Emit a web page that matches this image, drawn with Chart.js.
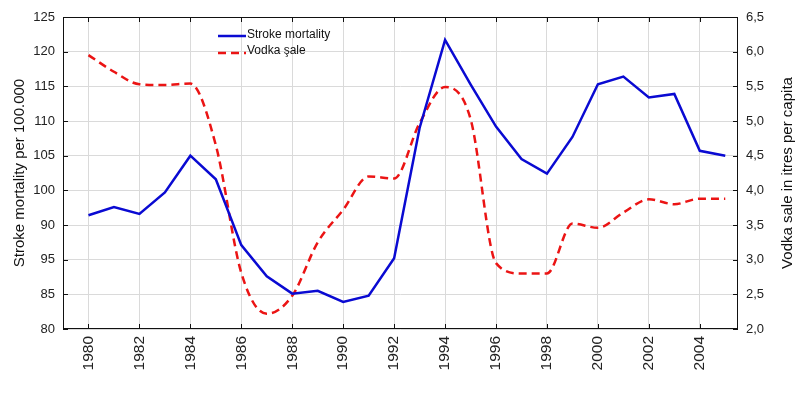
<!DOCTYPE html>
<html>
<head>
<meta charset="utf-8">
<script src="https://cdn.jsdelivr.net/npm/chart.js@4.4.0/dist/chart.umd.min.js"></script>
<style>
  html, body { margin: 0; padding: 0; background: #fff; }
  #wrap { width: 800px; height: 394px; }
</style>
</head>
<body>
<div id="wrap"><canvas id="strokeVodkaChart"></canvas></div>
<script>
var years = [1980, 1981, 1982, 1983, 1984, 1985, 1986, 1987, 1988, 1989, 1990, 1991, 1992,
             1993, 1994, 1995, 1996, 1997, 1998, 1999, 2000, 2001, 2002, 2003, 2004, 2005];
var strokeMortality = [96.4, 97.6, 96.6, 99.7, 105.0, 101.6, 92.1, 87.6, 85.1, 85.5, 83.9, 84.8, 90.2,
                       109.0, 121.7, 115.3, 109.2, 104.5, 102.4, 107.7, 115.3, 116.4, 113.4, 113.9, 105.7, 105.0];
var vodkaSale = [5.95, 5.71, 5.53, 5.52, 5.54, 4.65, 2.81, 2.22, 2.48, 3.25, 3.72, 4.20, 4.17,
                 4.97, 5.49, 5.03, 2.95, 2.80, 2.80, 3.52, 3.46, 3.68, 3.87, 3.80, 3.88, 3.88];

var yearTicks = [1980, 1982, 1984, 1986, 1988, 1990, 1992, 1994, 1996, 1998, 2000, 2002, 2004];
var strokeTicks = [80, 85, 90, 95, 100, 105, 110, 115, 120, 125];
// labels exactly as printed on the original axis (90 and 95 are swapped there)
var strokeTickLabels = ['80', '85', '95', '90', '100', '105', '110', '115', '120', '125'];
var vodkaTicks = [2, 2.5, 3, 3.5, 4, 4.5, 5, 5.5, 6, 6.5];
var vodkaTickLabels = ['2,0', '2,5', '3,0', '3,5', '4,0', '4,5', '5,0', '5,5', '6,0', '6,5'];

var seriesNames = ['Stroke mortality', 'Vodka şale'];
var leftTitle = 'Stroke mortality per 100.000';
var rightTitle = 'Vodka sale in itres per capita';

var blue = 'rgb(10, 10, 210)';
var red = 'rgb(235, 20, 20)';
var dash = [8, 5];

// frame, inward tick marks, in-plot legend and right axis title
var decorations = {
    id: 'decorations',
    afterDraw: function (chart) {
        var c = chart.ctx;
        var a = chart.chartArea;
        var sx = chart.scales.x, sy = chart.scales.y, sy1 = chart.scales.y1;
        c.save();
        c.strokeStyle = '#111';
        c.lineWidth = 1;
        c.strokeRect(Math.round(a.left) + 0.5, Math.round(a.top) + 0.5,
                     Math.round(a.right - a.left) - 1, Math.round(a.bottom - a.top) - 1);
        c.beginPath();
        yearTicks.forEach(function (v) {
            var x = Math.round(sx.getPixelForValue(v)) + 0.5;
            c.moveTo(x, a.bottom); c.lineTo(x, a.bottom - 5);
            c.moveTo(x, a.top); c.lineTo(x, a.top + 5);
        });
        strokeTicks.forEach(function (v) {
            var y = Math.round(sy.getPixelForValue(v)) + 0.5;
            c.moveTo(a.left, y); c.lineTo(a.left + 5, y);
        });
        vodkaTicks.forEach(function (v) {
            var y = Math.round(sy1.getPixelForValue(v)) + 0.5;
            c.moveTo(a.right, y); c.lineTo(a.right - 5, y);
        });
        c.stroke();

        // legend
        var lx = a.left + 155, ly = a.top + 19;
        c.lineWidth = 2.5;
        c.strokeStyle = blue;
        c.beginPath(); c.moveTo(lx, ly); c.lineTo(lx + 28, ly); c.stroke();
        c.strokeStyle = red;
        c.setLineDash(dash);
        c.beginPath(); c.moveTo(lx, ly + 17); c.lineTo(lx + 28, ly + 17); c.stroke();
        c.setLineDash([]);
        c.fillStyle = '#111';
        c.font = '12px "Liberation Sans", Arial, sans-serif';
        c.textBaseline = 'middle';
        c.textAlign = 'left';
        c.fillText(seriesNames[0], lx + 29, ly - 1);
        c.fillText(seriesNames[1], lx + 29, ly + 15);

        // right axis title, reading bottom to top
        c.translate(788, (a.top + a.bottom) / 2);
        c.rotate(-Math.PI / 2);
        c.textAlign = 'center';
        c.font = '15px "Liberation Sans", Arial, sans-serif';
        c.fillText(rightTitle, 0, 0);
        c.restore();
    }
};

var ctx = document.getElementById('strokeVodkaChart').getContext('2d');
var strokeVodkaChart = new Chart(ctx, {
    type: 'line',
    data: {
        datasets: [{
            label: seriesNames[0],
            data: years.map(function (y, i) { return { x: y, y: strokeMortality[i] }; }),
            yAxisID: 'y',
            borderColor: blue,
            borderWidth: 2.5,
            pointRadius: 0,
            tension: 0,
            fill: false
        }, {
            label: seriesNames[1],
            data: years.map(function (y, i) { return { x: y, y: vodkaSale[i] }; }),
            yAxisID: 'y1',
            borderColor: red,
            borderWidth: 2.5,
            borderDash: dash,
            pointRadius: 0,
            cubicInterpolationMode: 'monotone',
            fill: false
        }]
    },
    options: {
        responsive: true,
        maintainAspectRatio: false,
        animation: false,
        layout: { padding: { top: 17, left: 0, right: 0, bottom: 0 } },
        plugins: {
            legend: { display: false },
            tooltip: { enabled: false }
        },
        scales: {
            x: {
                type: 'linear',
                min: 1979,
                max: 2005.5,
                afterBuildTicks: function (s) { s.ticks = yearTicks.map(function (v) { return { value: v }; }); },
                afterFit: function (s) { s.height = 65; },
                grid: { color: '#dadada', drawTicks: false },
                border: { display: false },
                ticks: {
                    minRotation: 90,
                    maxRotation: 90,
                    padding: 7,
                    color: '#222',
                    font: { family: '"Liberation Sans", Arial, sans-serif', size: 15.5 },
                    callback: function (v) { return String(v); }
                }
            },
            y: {
                position: 'left',
                min: 80,
                max: 125,
                afterBuildTicks: function (s) { s.ticks = strokeTicks.map(function (v) { return { value: v }; }); },
                afterFit: function (s) { s.width = 63; },
                grid: { color: '#dadada', drawTicks: false },
                border: { display: false },
                ticks: {
                    padding: 8,
                    color: '#222',
                    font: { family: '"Liberation Sans", Arial, sans-serif', size: 13 },
                    callback: function (v) { return strokeTickLabels[strokeTicks.indexOf(v)]; }
                },
                title: {
                    display: true,
                    text: leftTitle,
                    color: '#111',
                    padding: { top: 11, bottom: 0 },
                    font: { family: '"Liberation Sans", Arial, sans-serif', size: 15 }
                }
            },
            y1: {
                position: 'right',
                min: 2,
                max: 6.5,
                afterBuildTicks: function (s) { s.ticks = vodkaTicks.map(function (v) { return { value: v }; }); },
                afterFit: function (s) { s.width = 62; },
                grid: { display: false, drawTicks: false },
                border: { display: false },
                ticks: {
                    padding: 8,
                    color: '#222',
                    font: { family: '"Liberation Sans", Arial, sans-serif', size: 13 },
                    callback: function (v) { return vodkaTickLabels[vodkaTicks.indexOf(v)]; }
                }
            }
        }
    },
    plugins: [decorations]
});
</script>
</body>
</html>
